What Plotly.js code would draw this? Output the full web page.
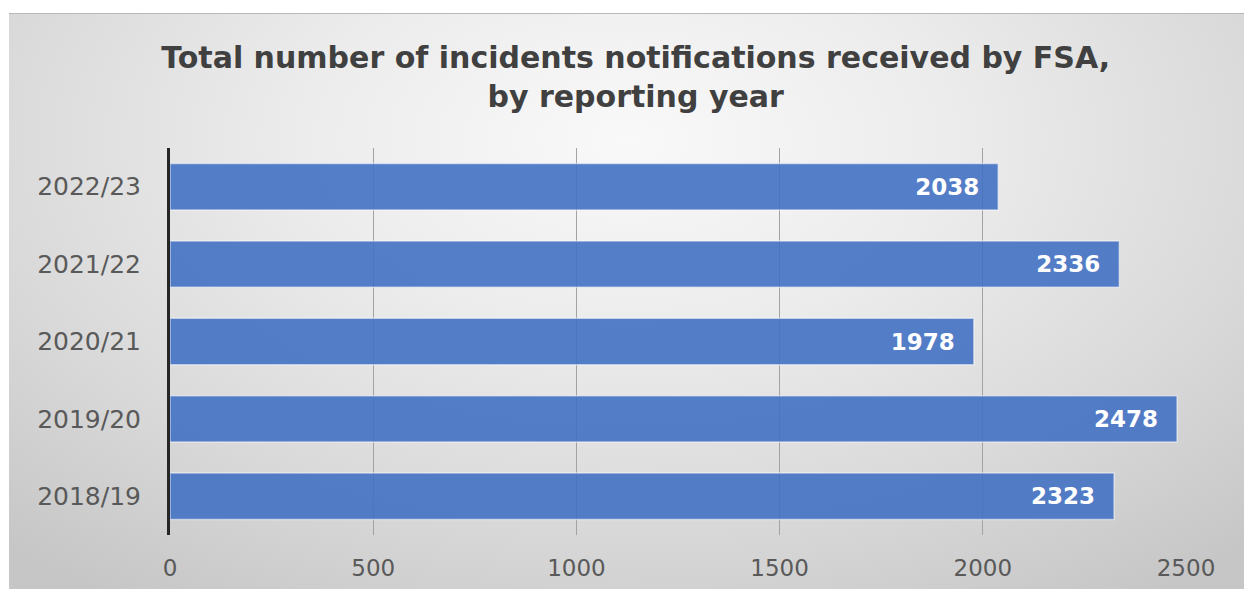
<!DOCTYPE html>
<html>
<head>
<meta charset="utf-8">
<script src="https://cdn.plot.ly/plotly-3.0.1.min.js"></script>
<style>
  html, body { margin: 0; padding: 0; background: #ffffff; }
  #wrap { position: relative; width: 1244px; height: 589px; overflow: hidden; }
  #bg {
    position: absolute; left: 9px; top: 13px; width: 1235px; height: 576px;
    background: radial-gradient(ellipse 75% 95% at 50% 22%, #f9f9f9 0%, #ececec 35%, #d9d9d9 70%, #c6c6c6 100%);
    border-top: 1px solid #b9b9b9;
  }
  #chart { position: absolute; left: 0; top: 0; width: 1244px; height: 589px; }
</style>
</head>
<body>
<div id="wrap">
  <div id="bg"></div>
  <div id="chart"></div>
</div>
<script>
const years = ['2022/23', '2021/22', '2020/21', '2019/20', '2018/19'];
const incidents = [2038, 2336, 1978, 2478, 2323];
const xTicks = [0, 500, 1000, 1500, 2000, 2500];
const chartTitle = 'Total number of incidents notifications received by FSA,<br>by reporting year';

const trace = {
  type: 'bar',
  orientation: 'h',
  y: years,
  x: incidents,
  marker: {
    color: '#4472C4',
    opacity: 0.9,
    line: { color: 'rgba(255,255,255,0.55)', width: 1.5 }
  },
  text: incidents.map(String),
  texttemplate: '%{text}\u00a0\u00a0',
  textposition: 'inside',
  insidetextanchor: 'end',
  textfont: { family: 'DejaVu Sans', size: 23, color: '#ffffff', weight: 'bold' },
  cliponaxis: false,
  hoverinfo: 'none'
};

const layout = {
  width: 1244,
  height: 589,
  paper_bgcolor: 'rgba(0,0,0,0)',
  plot_bgcolor: 'rgba(0,0,0,0)',
  margin: { l: 170, r: 58, t: 148, b: 54 },
  bargap: 0.4,
  showlegend: false,
  title: {
    text: chartTitle,
    font: { family: 'DejaVu Sans', size: 30, color: '#404040', weight: 'bold' },
    x: 0.511, xanchor: 'center',
    y: 0.884, yanchor: 'top',
    xref: 'container', yref: 'container'
  },
  xaxis: {
    range: [0, 2500],
    tickvals: xTicks,
    ticktext: xTicks.map(String),
    showgrid: true,
    gridcolor: '#a3a3a3',
    gridwidth: 1,
    zeroline: false,
    showline: false,
    ticks: '',
    ticklabelstandoff: 17,
    tickfont: { family: 'DejaVu Sans', size: 23, color: '#595959' },
    fixedrange: true
  },
  yaxis: {
    type: 'category',
    autorange: 'reversed',
    showgrid: false,
    zeroline: false,
    showline: true,
    linecolor: '#262626',
    linewidth: 3,
    ticks: '',
    ticklabelstandoff: 21,
    tickfont: { family: 'DejaVu Sans', size: 25, color: '#595959' },
    fixedrange: true
  }
};

Plotly.newPlot('chart', [trace], layout, { displayModeBar: false, staticPlot: true });
</script>
</body>
</html>
